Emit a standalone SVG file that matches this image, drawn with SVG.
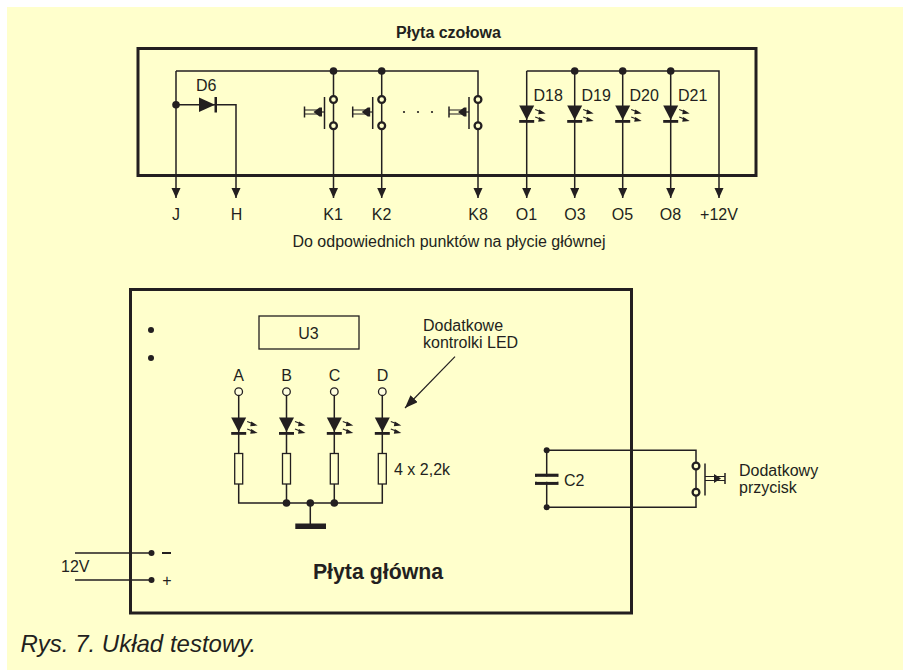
<svg xmlns="http://www.w3.org/2000/svg" xmlns:xlink="http://www.w3.org/1999/xlink" width="903" height="670" viewBox="0 0 903 670">
<style>
text{font-family:"Liberation Sans",Arial,sans-serif;fill:#231f20;font-size:16px}
.m{text-anchor:middle}
.b{font-weight:bold}
.box{fill:none;stroke:#231f20;stroke-width:3}
.w{fill:none;stroke:#231f20;stroke-width:1.5}
.t{fill:none;stroke:#231f20;stroke-width:1.200}
.f{fill:#231f20}
.c{fill:#ffffcc;stroke:#231f20;stroke-width:2.300}
.o{fill:#ffffe0;stroke:#231f20;stroke-width:1.300}
.r{fill:#ffffcc;stroke:#231f20;stroke-width:1.300}
</style>
<defs>
<marker id="arr" markerUnits="userSpaceOnUse" markerWidth="10" markerHeight="10" refX="10" refY="4.500" orient="auto"><path d="M0 0L10 4.500L0 9Z" fill="#231f20"/></marker>
<marker id="arr2" markerUnits="userSpaceOnUse" markerWidth="13" markerHeight="10" refX="13" refY="5" orient="auto"><path d="M0 0L13 5L0 10Z" fill="#231f20"/></marker>
<g id="led">
<path class="f" d="M-7.500 -15.500H7.500L0 -1Z"/>
<rect class="f" x="-7.500" y="-1" width="15" height="2.800"/>
<path class="t" d="M8.500 -11.500L15 -9M8.500 -4L15 -1.500"/>
<path class="f" d="M19 -7.500L12.500 -11.500L11.500 -6.800ZM19 0L12.500 -4L11.500 0.700Z"/>
</g>
<g id="swL">
<path class="w" d="M-9 -15V17"/>
<path class="t" d="M-29 -2H-14M-29 2H-14"/>
<path class="w" d="M-29 -5.500V5.500"/>
<path class="f" d="M-20 0L-14 -4.500H-11.500V4.500H-14Z"/>
<path class="t" d="M-12 0H-9"/>
<circle class="c" cx="0" cy="-12.500" r="3.400"/>
<circle class="c" cx="0" cy="13.800" r="3.400"/>
</g>
<g id="swR">
<path class="w" d="M9 -15V17"/>
<path class="t" d="M9 -2H29M9 2H29"/>
<path class="w" d="M29 -5.500V5.500"/>
<path class="f" d="M25 0L18 -4.500V4.500Z"/>
<circle class="c" cx="0" cy="-12.500" r="3.400"/>
<circle class="c" cx="0" cy="13.800" r="3.400"/>
</g>
</defs>
<rect x="7" y="7" width="896" height="663" fill="#ffffcc"/>

<g id="connectors">
<path class="w" d="M176 71H478V112M333.500 71V112M381.700 71V112"/>
<path class="w" d="M333.500 112V198" marker-end="url(#arr)"/>
<path class="w" d="M381.700 112V198" marker-end="url(#arr)"/>
<path class="w" d="M478 112V198" marker-end="url(#arr)"/>
<path class="w" d="M176 71V198" marker-end="url(#arr)"/>
<path class="w" d="M176 104.700H236V198" marker-end="url(#arr)"/>
<path class="w" d="M526.700 71V198" marker-end="url(#arr)"/>
<path class="w" d="M574.700 71V198" marker-end="url(#arr)"/>
<path class="w" d="M622.700 71V198" marker-end="url(#arr)"/>
<path class="w" d="M670.700 71V198" marker-end="url(#arr)"/>
<path class="w" d="M526.700 71H719V198" marker-end="url(#arr)"/>
<path class="w" d="M238.700 392V503H382.300V392M286.500 392V503M334.300 392V503M310.300 503V526"/>
<path class="t" d="M455 356.700L405 408" marker-end="url(#arr2)"/>
<path class="w" d="M546.700 450.300V507.300M546.700 450.300H696V478M546.700 507.300H696V478"/>
<path class="w" d="M75 553H151.500M75 580H151.500"/>
</g>

<g id="plyta-czolowa"><rect class="box" x="138" y="48.500" width="618" height="127"/><text class="m b" x="448.500" y="38">Płyta czołowa</text></g>

<g id="D6"><path class="f" d="M199 97.500L215 104.700L199 112Z"/><rect class="f" x="214.500" y="97" width="2.500" height="15.500"/><text x="196" y="90.500">D6</text></g>
<g id="node-j"><circle class="f" cx="176" cy="104.700" r="3.800"/></g>

<g id="switch-k1"><use xlink:href="#swL" x="333.500" y="112"/><circle class="f" cx="333.500" cy="71" r="3.800"/></g>
<g id="switch-k2"><use xlink:href="#swL" x="381.700" y="112"/><circle class="f" cx="381.700" cy="71" r="3.800"/></g>
<g id="dots"><circle class="f" cx="404" cy="112" r="1.100"/><circle class="f" cx="418" cy="112" r="1.100"/><circle class="f" cx="432" cy="112" r="1.100"/></g>
<g id="switch-k8"><use xlink:href="#swL" x="478" y="112"/></g>

<g id="D18"><use xlink:href="#led" x="526.700" y="121"/><text x="533.500" y="100.500">D18</text></g>
<g id="D19"><use xlink:href="#led" x="574.700" y="121"/><circle class="f" cx="574.700" cy="71" r="3.800"/><text x="581.500" y="100.500">D19</text></g>
<g id="D20"><use xlink:href="#led" x="622.700" y="121"/><circle class="f" cx="622.700" cy="71" r="3.800"/><text x="629.500" y="100.500">D20</text></g>
<g id="D21"><use xlink:href="#led" x="670.700" y="121"/><circle class="f" cx="670.700" cy="71" r="3.800"/><text x="678" y="100.500">D21</text></g>

<g id="labels-top">
<text class="m" x="176" y="219.500">J</text><text class="m" x="236.500" y="219.500">H</text><text class="m" x="333" y="219.500">K1</text><text class="m" x="381.500" y="219.500">K2</text><text class="m" x="478" y="219.500">K8</text><text class="m" x="526.500" y="219.500">O1</text><text class="m" x="575" y="219.500">O3</text><text class="m" x="622.500" y="219.500">O5</text><text class="m" x="670.500" y="219.500">O8</text><text class="m" x="719" y="219.500">+12V</text>
<text class="m" x="449" y="247">Do odpowiednich punktów na płycie głównej</text>
</g>

<g id="plyta-glowna"><rect class="box" x="130.500" y="289.500" width="501" height="323.500"/><text class="m b" x="378" y="579" style="font-size:21.300px">Płyta główna</text></g>
<g id="dots-left"><circle class="f" cx="151" cy="330" r="3"/><circle class="f" cx="151" cy="358" r="3"/></g>
<g id="U3"><rect x="259" y="316" width="100" height="33" fill="none" stroke="#231f20" stroke-width="1.300"/><text class="m" x="308.500" y="339">U3</text></g>

<g id="led-a"><circle class="o" cx="238.700" cy="391.700" r="3.800"/><use xlink:href="#led" x="238.700" y="433"/><rect class="r" x="234.700" y="453.500" width="8" height="30.500"/><text class="m" x="238.500" y="380.500">A</text></g>
<g id="led-b"><circle class="o" cx="286.500" cy="391.700" r="3.800"/><use xlink:href="#led" x="286.500" y="433"/><rect class="r" x="282.500" y="453.500" width="8" height="30.500"/><text class="m" x="286.500" y="380.500">B</text><circle class="f" cx="286.500" cy="503" r="3.800"/></g>
<g id="led-c"><circle class="o" cx="334.300" cy="391.700" r="3.800"/><use xlink:href="#led" x="334.300" y="433"/><rect class="r" x="330.300" y="453.500" width="8" height="30.500"/><text class="m" x="334.500" y="380.500">C</text><circle class="f" cx="334.300" cy="503" r="3.800"/></g>
<g id="led-d"><circle class="o" cx="382.300" cy="391.700" r="3.800"/><use xlink:href="#led" x="382.300" y="433"/><rect class="r" x="378.300" y="453.500" width="8" height="30.500"/><text class="m" x="382.500" y="380.500">D</text><text x="394" y="474.500">4 x 2,2k</text></g>
<g id="ground"><circle class="f" cx="310.300" cy="503" r="3.800"/><rect class="f" x="295.300" y="523.500" width="30.700" height="5.500"/></g>
<g id="note-led"><text x="423" y="331">Dodatkowe</text><text x="423" y="348">kontrolki LED</text></g>

<g id="C2"><rect x="535" y="473.700" width="23.500" height="3.200" class="f"/><rect x="535" y="481.700" width="23.500" height="3.200" class="f"/><rect x="537" y="476.900" width="20" height="4.800" fill="#ffffcc"/><circle class="f" cx="546.700" cy="450.300" r="3"/><circle class="f" cx="546.700" cy="507.300" r="3"/><text x="564" y="485.500">C2</text></g>
<g id="switch-dodatkowy"><use xlink:href="#swR" x="696" y="478.500"/><text x="739" y="475.500">Dodatkowy</text><text x="739" y="492.500">przycisk</text></g>

<g id="power"><circle class="f" cx="151.500" cy="553" r="3"/><circle class="f" cx="151.500" cy="580" r="3"/><rect class="f" x="162" y="552" width="9" height="2"/><text class="m" x="167" y="585.500">+</text><text x="61" y="572">12V</text></g>

<text id="caption" x="20.500" y="651.500" style="font-size:24px;font-style:italic">Rys. 7. Układ testowy.</text>
</svg>
